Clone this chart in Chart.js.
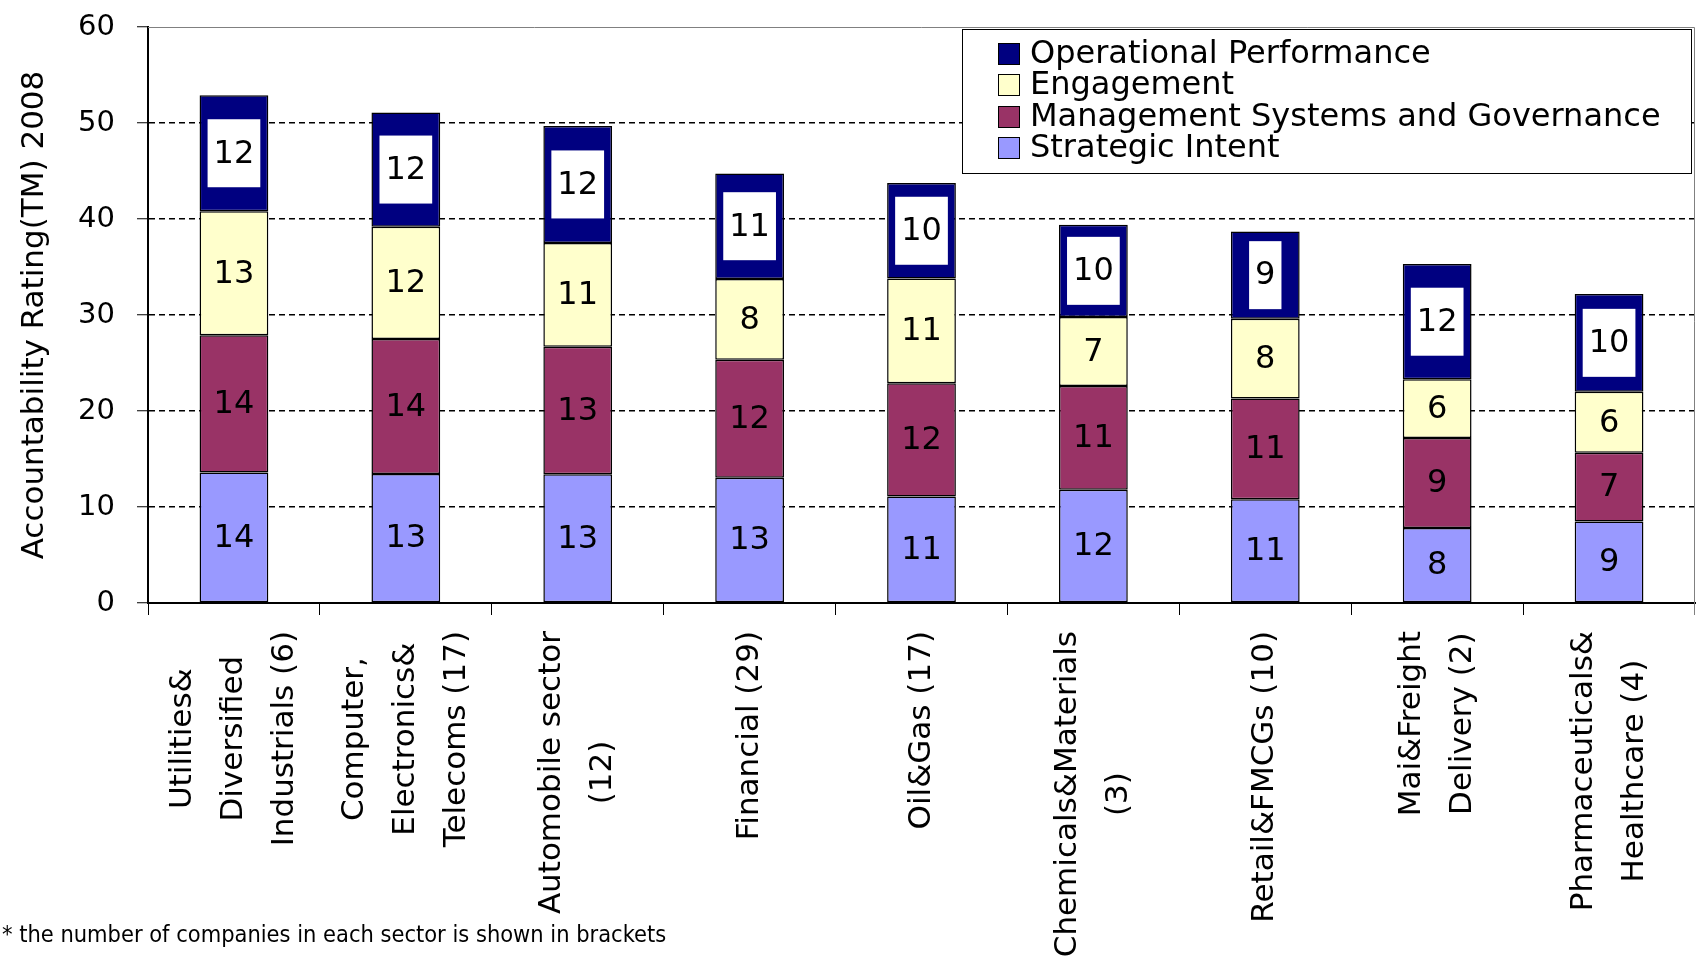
<!DOCTYPE html>
<html>
<head>
<meta charset="utf-8">
<script src="https://cdn.jsdelivr.net/npm/chart.js@4.4.1/dist/chart.umd.min.js"></script>
<style>
html,body{margin:0;padding:0;background:#fff;}
canvas{display:block;}
</style>
</head>
<body>
<canvas id="c" width="1697" height="961"></canvas>
<script>
// ---- data ----
const categories = [
  ['Utilities&', 'Diversified', 'Industrials (6)'],
  ['Computer,', 'Electronics&', 'Telecoms (17)'],
  ['Automobile sector', '(12)'],
  ['Financial (29)'],
  ['Oil&Gas (17)'],
  ['Chemicals&Materials', '(3)'],
  ['Retail&FMCGs (10)'],
  ['Mai&Freight', 'Delivery (2)'],
  ['Pharmaceuticals&', 'Healthcare (4)']
];
const strategicIntent        = [13.6, 13.45, 13.4, 13.05, 11.1, 11.8, 10.8, 7.8, 8.5];
const managementSystems      = [14.3, 14.05, 13.3, 12.3, 11.8, 10.8, 10.5, 9.4, 7.15];
const engagement             = [12.9, 11.7, 10.8, 8.4, 10.9, 7.2, 8.3, 6.1, 6.35];
const operationalPerformance = [12.1, 11.9, 12.2, 11.0, 9.95, 9.6, 9.1, 12.0, 10.2];
const seriesNames = ['Strategic Intent', 'Management Systems and Governance', 'Engagement', 'Operational Performance'];
const yTicks = [0, 10, 20, 30, 40, 50, 60];
const yTitle = 'Accountability Rating(TM) 2008';
const footnote = '* the number of companies in each sector is shown in brackets';

// ---- styles ----
const FONT = "'DejaVu Sans', Verdana, sans-serif";
const colors = ['#9999FF', '#993366', '#FFFFCC', '#000080'];

const decor = {
  id: 'decor',
  afterDatasetsDraw(chart) {
    const ctx = chart.ctx;
    const ca = chart.chartArea;
    ctx.save();
    // plot border (top & right)
    ctx.strokeStyle = '#808080';
    ctx.lineWidth = 1;
    ctx.beginPath();
    ctx.moveTo(ca.left, ca.top + 0.5);
    ctx.lineTo(ca.right - 0.5, ca.top + 0.5);
    ctx.lineTo(ca.right - 0.5, ca.bottom + 12);
    ctx.stroke();

    // data labels
    ctx.font = '32px ' + FONT;
    ctx.textAlign = 'center';
    ctx.textBaseline = 'middle';
    chart.data.datasets.forEach((ds, di) => {
      const meta = chart.getDatasetMeta(di);
      meta.data.forEach((bar, i) => {
        const txt = String(Math.round(ds.data[i]));
        const cy = (bar.y + bar.base) / 2;
        if (di === 3) {
          const w = ctx.measureText(txt).width + 12;
          ctx.fillStyle = '#fff';
          ctx.fillRect(bar.x - w / 2, cy - 34, w, 68);
        }
        ctx.fillStyle = '#000';
        ctx.fillText(txt, bar.x, cy + 1);
      });
    });

    // category labels (rotated, centred lines)
    const xs = chart.scales.x;
    ctx.font = '31px ' + FONT;
    ctx.fillStyle = '#000';
    categories.forEach((lines, i) => {
      const cx = xs.getPixelForValue(i);
      const maxW = Math.max(...lines.map(l => ctx.measureText(l).width));
      const cy = ca.bottom + 28 + maxW / 2;
      lines.forEach((l, j) => {
        const x = cx + (j - (lines.length - 1) / 2) * 51;
        ctx.save();
        ctx.translate(x, cy);
        ctx.rotate(-Math.PI / 2);
        ctx.fillText(l, 0, 0);
        ctx.restore();
      });
    });

    // legend
    const bw = 730, bh = 145;
    const bx = ca.right - bw - 3, by = ca.top + 2;
    ctx.fillStyle = '#fff';
    ctx.fillRect(bx, by, bw, bh);
    ctx.strokeStyle = '#000';
    ctx.lineWidth = 1;
    ctx.strokeRect(bx + 0.5, by + 0.5, bw - 1, bh - 1);
    ctx.font = '32px ' + FONT;
    ctx.textAlign = 'left';
    [3, 2, 1, 0].forEach((di, k) => {
      const ds = chart.data.datasets[di];
      const yc = Math.round(by + 25 + k * 31.4);
      ctx.fillStyle = ds.backgroundColor;
      ctx.fillRect(bx + 36, yc - 11, 22, 22);
      ctx.strokeRect(bx + 36.5, yc - 10.5, 21, 21);
      ctx.fillStyle = '#000';
      ctx.fillText(ds.label, bx + 68, yc + 1);
    });

    // footnote
    ctx.font = "23.4px 'DejaVu Sans Condensed', 'DejaVu Sans', sans-serif";
    ctx.textBaseline = 'middle';
    ctx.fillText(footnote, 2, 936);
    ctx.restore();
  }
};

const datasets = [strategicIntent, managementSystems, engagement, operationalPerformance].map((d, i) => ({
  label: seriesNames[i],
  data: d,
  backgroundColor: colors[i],
  borderColor: '#000',
  borderWidth: 1.5,
  borderSkipped: false,
  barPercentage: 0.4,
  categoryPercentage: 1.0
}));

new Chart(document.getElementById('c'), {
  type: 'bar',
  data: { labels: categories.map(c => c.join(' ')), datasets },
  options: {
    responsive: false,
    animation: false,
    layout: { padding: { top: 27, right: 2, left: 0, bottom: 0 } },
    plugins: { legend: { display: false }, tooltip: { enabled: false } },
    scales: {
      x: {
        stacked: true,
        ticks: { display: false },
        grid: { display: true, drawOnChartArea: false, drawTicks: true, tickLength: 12, tickColor: '#000', tickWidth: 1, offset: true },
        border: { display: true, color: '#000', width: 2 },
        afterFit(scale) { scale.height = 358; scale.paddingLeft = 0; scale.paddingRight = 0; }
      },
      y: {
        stacked: true,
        min: yTicks[0],
        max: yTicks[yTicks.length - 1],
        afterBuildTicks(scale) { scale.ticks = yTicks.map(v => ({ value: v })); },
        ticks: { color: '#000', font: { family: FONT, size: 29 }, padding: 22 },
        grid: {
          color: c => (c.tick && (c.tick.value === 60 || c.tick.value === 0)) ? 'rgba(0,0,0,0)' : '#000',
          lineWidth: 1.5,
          drawTicks: true,
          tickLength: 11,
          tickColor: '#000',
          tickWidth: 1,
          tickBorderDash: []
        },
        border: { display: true, color: '#000', width: 2, dash: [6, 4] },
        title: { display: true, text: yTitle, color: '#000', font: { family: FONT, size: 31 }, padding: { top: 16, bottom: 0 } },
        afterFit(scale) { scale.width = 148; scale.paddingTop = 0; scale.paddingBottom = 0; }
      }
    }
  },
  plugins: [decor]
});
</script>
</body>
</html>
